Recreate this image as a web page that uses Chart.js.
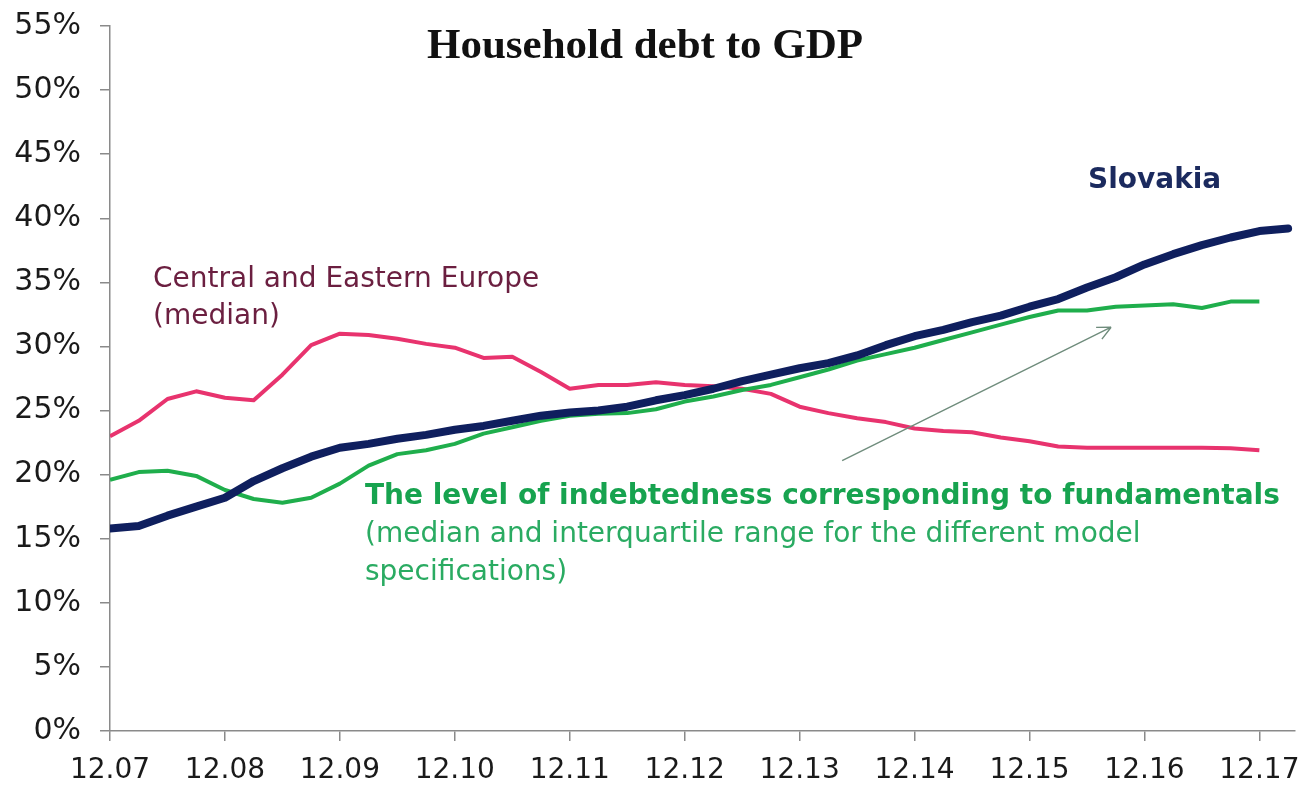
<!DOCTYPE html>
<html>
<head>
<meta charset="utf-8">
<title>Household debt to GDP</title>
<script src="https://cdn.jsdelivr.net/npm/chart.js@4.4.1/dist/chart.umd.min.js"></script>
<style>
  body { margin: 0; background: #fff; }
  #wrap { width: 1308px; height: 787px; }
</style>
</head>
<body>
<div id="wrap"><canvas id="chart" width="1308" height="787"></canvas></div>
<script>
// Quarterly observations (month.year)
var quarters = [
  "12.07", "03.08", "06.08", "09.08", "12.08", "03.09", "06.09", "09.09",
  "12.09", "03.10", "06.10", "09.10", "12.10", "03.11", "06.11", "09.11",
  "12.11", "03.12", "06.12", "09.12", "12.12", "03.13", "06.13", "09.13",
  "12.13", "03.14", "06.14", "09.14", "12.14", "03.15", "06.15", "09.15",
  "12.15", "03.16", "06.16", "09.16", "12.16", "03.17", "06.17", "09.17",
  "12.17", "03.18"
];

// Axis tick labels
var xTickLabels = ["12.07", "12.08", "12.09", "12.10", "12.11", "12.12", "12.13", "12.14", "12.15", "12.16", "12.17"];
var yTicks = [0, 5, 10, 15, 20, 25, 30, 35, 40, 45, 50, 55];

// Household debt to GDP, %
var slovakia = [15.8, 16.0, 16.8, 17.5, 18.2, 19.5, 20.5, 21.4, 22.1, 22.4, 22.8, 23.1,
  23.5, 23.8, 24.2, 24.6, 24.85, 25.0, 25.3, 25.8, 26.2, 26.7, 27.3, 27.8, 28.3, 28.7,
  29.3, 30.1, 30.8, 31.3, 31.9, 32.4, 33.1, 33.7, 34.6, 35.4, 36.4, 37.2, 37.9, 38.5,
  39.0, 39.2];
var fundamentals = [19.6, 20.2, 20.3, 19.9, 18.8, 18.1, 17.8, 18.2, 19.3, 20.7, 21.6,
  21.9, 22.4, 23.2, 23.7, 24.2, 24.6, 24.75, 24.8, 25.1, 25.7, 26.1, 26.6, 27.0, 27.6,
  28.2, 28.9, 29.4, 29.9, 30.5, 31.1, 31.7, 32.3, 32.8, 32.8, 33.1, 33.2, 33.3, 33.0,
  33.5, 33.5];
var ceeMedian = [23.0, 24.2, 25.9, 26.5, 26.0, 25.8, 27.8, 30.1, 31.0, 30.9, 30.6, 30.2,
  29.9, 29.1, 29.2, 28.0, 26.7, 27.0, 27.0, 27.2, 27.0, 26.9, 26.7, 26.3, 25.3, 24.8,
  24.4, 24.1, 23.6, 23.4, 23.3, 22.9, 22.6, 22.2, 22.1, 22.1, 22.1, 22.1, 22.1, 22.05,
  21.9];

// position on the time axis = years since 12.07 (one quarter = 0.25)
function toPoints(values) {
  return values.map(function (v, i) {
    return { x: i / 4, y: v, q: quarters[i] };
  });
}

var SANS = "'DejaVu Sans', Verdana, sans-serif";

// Title, series labels and the arrow
var annotations = {
  id: "annotations",
  afterDraw: function (chart) {
    var ctx = chart.ctx;
    var xs = chart.scales.x, ys = chart.scales.y;
    ctx.save();

    // arrow pointing at the fundamentals line
    var x1 = xs.getPixelForValue(6.37), y1 = ys.getPixelForValue(21.1);
    var x2 = xs.getPixelForValue(8.71), y2 = ys.getPixelForValue(31.5);
    ctx.strokeStyle = "#6f8c7c";
    ctx.lineWidth = 1.4;
    ctx.beginPath();
    ctx.moveTo(x1, y1);
    ctx.lineTo(x2, y2);
    var a = Math.atan2(y2 - y1, x2 - x1);
    ctx.moveTo(x2, y2);
    ctx.lineTo(x2 - 15 * Math.cos(a - 0.45), y2 - 15 * Math.sin(a - 0.45));
    ctx.moveTo(x2, y2);
    ctx.lineTo(x2 - 15 * Math.cos(a + 0.45), y2 - 15 * Math.sin(a + 0.45));
    ctx.stroke();

    ctx.textBaseline = "middle";

    ctx.textAlign = "center";
    ctx.fillStyle = "#111";
    ctx.font = "bold 43px 'Liberation Serif', 'Times New Roman', serif";
    ctx.fillText("Household debt to GDP", 645, 47);

    ctx.textAlign = "left";
    ctx.fillStyle = "#6b1f40";
    ctx.font = "28px " + SANS;
    ctx.fillText("Central and Eastern Europe", 153, 280);
    ctx.fillText("(median)", 153, 317);

    ctx.fillStyle = "#1b2a5e";
    ctx.font = "bold 28px " + SANS;
    ctx.fillText("Slovakia", 1088, 181);

    ctx.fillStyle = "#17a34f";
    ctx.font = "bold 28px " + SANS;
    ctx.fillText("The level of indebtedness corresponding to fundamentals", 365, 497);
    ctx.fillStyle = "#2aab62";
    ctx.font = "28px " + SANS;
    ctx.fillText("(median and interquartile range for the different model", 365, 535);
    ctx.fillText("specifications)", 365, 573);

    ctx.restore();
  }
};

var ctx = document.getElementById("chart").getContext("2d");
new Chart(ctx, {
  type: "line",
  data: {
    datasets: [{
      label: "Slovakia",
      data: toPoints(slovakia),
      borderColor: "#0f1f5e",
      borderWidth: 8,
      borderCapStyle: "round",
      borderJoinStyle: "round"
    }, {
      label: "The level of indebtedness corresponding to fundamentals",
      data: toPoints(fundamentals),
      borderColor: "#1fae4c",
      borderWidth: 4,
      borderJoinStyle: "round"
    }, {
      label: "Central and Eastern Europe (median)",
      data: toPoints(ceeMedian),
      borderColor: "#e8336e",
      borderWidth: 4,
      borderJoinStyle: "round"
    }]
  },
  options: {
    responsive: false,
    animation: false,
    layout: { padding: { top: 26, right: 13, left: 0, bottom: 0 } },
    elements: { point: { radius: 0 }, line: { tension: 0 } },
    plugins: {
      legend: { display: false },
      tooltip: { enabled: false }
    },
    scales: {
      x: {
        type: "linear",
        min: 0,
        max: 10.31,
        afterBuildTicks: function (scale) {
          scale.ticks = xTickLabels.map(function (l, i) { return { value: i }; });
        },
        afterFit: function (scale) {
          scale.height = 56;
          scale.paddingLeft = 0;
          scale.paddingRight = 0;
        },
        border: { display: true, color: "#8a8a8a", width: 1.5 },
        grid: { drawOnChartArea: false, drawTicks: true, tickLength: 10, color: "#8a8a8a", lineWidth: 1.5 },
        ticks: {
          padding: 13,
          maxRotation: 0,
          autoSkip: false,
          color: "#1a1a1a",
          font: { family: SANS, size: 28 },
          callback: function (v, i) { return xTickLabels[i]; }
        }
      },
      y: {
        min: 0,
        max: 55,
        afterBuildTicks: function (scale) {
          scale.ticks = yTicks.map(function (v) { return { value: v }; });
        },
        afterFit: function (scale) {
          scale.width = 110;
          scale.paddingTop = 0;
          scale.paddingBottom = 0;
        },
        border: { display: true, color: "#8a8a8a", width: 1.5 },
        grid: { drawOnChartArea: false, drawTicks: true, tickLength: 10, color: "#8a8a8a", lineWidth: 1.5 },
        ticks: {
          padding: 19,
          color: "#1a1a1a",
          font: { family: SANS, size: 30 },
          callback: function (v) { return v + "%"; }
        }
      }
    }
  },
  plugins: [annotations]
});
</script>
</body>
</html>
